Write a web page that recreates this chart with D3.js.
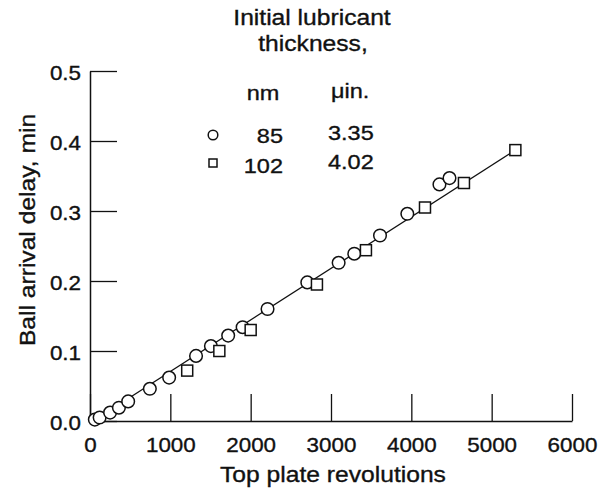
<!doctype html>
<html lang="en">
<head>
<meta charset="UTF-8" />
<title>Ball arrival delay vs top plate revolutions</title>
<style>
    body {
        margin: 0;
        background: #fff;
    }

    text {
        font-family: 'Liberation Sans', Arial, sans-serif;
        fill: #111;
        stroke: #111;
        stroke-width: 0.35px;
    }

    .mark {
        fill: #fff;
        stroke: #111;
        stroke-width: 1.5px;
    }
</style>
<script src="https://d3js.org/d3.v7.min.js"></script>
</head>
<body>
<div id="chart-container"></div>
<script>
    // 85 nm film (circles)
    var rev85 = [60, 120, 250, 360, 475, 745, 985, 1320, 1505, 1720, 1900, 2210, 2705, 3095, 3290, 3610, 3950, 4350, 4475];
    var delay85 = [0.002, 0.005, 0.012, 0.019, 0.028, 0.046, 0.062, 0.093, 0.107, 0.122, 0.134, 0.160, 0.198, 0.226, 0.239, 0.265, 0.296, 0.338, 0.347];

    // 102 nm film (squares)
    var rev102 = [1210, 1610, 2000, 2825, 3435, 4170, 4655, 5295];
    var delay102 = [0.072, 0.100, 0.130, 0.195, 0.244, 0.305, 0.340, 0.387];

    // straight fit line through both sets
    var fitRev = [40, 5295];
    var fitDelay = [0, 0.387];

    var xTicks = [0, 1000, 2000, 3000, 4000, 5000, 6000];
    var yTicks = [0, 0.1, 0.2, 0.3, 0.4, 0.5];

    var legendNm = ['85', '102'];
    var legendUin = ['3.35', '4.02'];

    var canvasWidth = 612;
    var canvasHeight = 491;
    var margin = { top: 71, left: 90 };
    var width = 482;
    var height = 350;
    var sx = 1.12; // scanned lettering is a bit wider than Arial

    var svg = d3
        .select('#chart-container')
        .append('svg')
        .attr('width', canvasWidth)
        .attr('height', canvasHeight);

    var g = svg
        .append('g')
        .attr('transform', 'translate(' + margin.left + ',' + margin.top + ')');

    var xScale = d3.scaleLinear().domain([0, 6000]).range([0, width]);
    var yScale = d3.scaleLinear().domain([0, 0.5]).range([height, 0]);

    // y axis, ticks pointing inward
    var yAxis = g.append('g')
        .call(d3.axisLeft(yScale)
            .tickValues(yTicks)
            .tickFormat(d3.format('.1f'))
            .tickSizeInner(-27)
            .tickSizeOuter(0)
            .tickPadding(9));

    // x axis
    var xAxis = g.append('g')
        .attr('transform', 'translate(0,' + height + ')')
        .call(d3.axisBottom(xScale)
            .tickValues(xTicks)
            .tickFormat(d3.format('d'))
            .tickSizeInner(-27)
            .tickSizeOuter(0)
            .tickPadding(17));

    [yAxis, xAxis].forEach(function (ax) {
        ax.attr('font-family', null).attr('font-size', null);
        ax.select('.domain').attr('stroke', '#111').attr('stroke-width', 1.5);
        ax.selectAll('.tick line').attr('stroke', '#111').attr('stroke-width', 1.3);
        ax.selectAll('text')
            .attr('fill', '#111')
            .attr('font-size', '20px')
            .attr('transform', 'scale(' + sx + ',1)');
    });
    yAxis.selectAll('text').attr('x', -9 / sx).attr('dy', '0.42em');

    // helper for free text, stretched like the original lettering
    function label(x, y, str, size, anchor, rot) {
        return svg.append('text')
            .attr('transform', 'translate(' + x + ',' + y + ')' + (rot ? ' rotate(' + rot + ')' : '') + ' scale(' + sx + ',1)')
            .attr('text-anchor', anchor)
            .attr('font-size', size + 'px')
            .text(str);
    }

    label(333, 482, 'Top plate revolutions', 22, 'middle');
    label(35, 230, 'Ball arrival delay, min', 22, 'middle', -90);

    // fit line
    var line = d3.line()
        .x(function (d) { return xScale(d[0]); })
        .y(function (d) { return yScale(d[1]); });

    g.append('path')
        .datum(d3.zip(fitRev, fitDelay))
        .attr('d', line)
        .attr('fill', 'none')
        .attr('stroke', '#111')
        .attr('stroke-width', 1.3);

    // circles, 85 nm
    g.selectAll('circle.c85')
        .data(d3.zip(rev85, delay85))
        .enter()
        .append('circle')
        .attr('class', 'mark c85')
        .attr('cx', function (d) { return xScale(d[0]); })
        .attr('cy', function (d) { return yScale(d[1]); })
        .attr('r', 6.3);

    // squares, 102 nm
    var sq = 11;
    g.selectAll('rect.s102')
        .data(d3.zip(rev102, delay102))
        .enter()
        .append('rect')
        .attr('class', 'mark s102')
        .attr('x', function (d) { return xScale(d[0]) - sq / 2; })
        .attr('y', function (d) { return yScale(d[1]) - sq / 2; })
        .attr('width', sq)
        .attr('height', sq);

    // legend
    label(312, 25, 'Initial lubricant', 22, 'middle');
    label(313, 51, 'thickness,', 22, 'middle');
    label(263, 100, 'nm', 21, 'middle');
    label(331, 98, 'μin.', 21, 'start');

    var legendRowsY = [135, 163];
    svg.append('circle')
        .attr('class', 'mark')
        .attr('cx', 213)
        .attr('cy', legendRowsY[0])
        .attr('r', 4.8);
    svg.append('rect')
        .attr('class', 'mark')
        .attr('x', 213 - 4)
        .attr('y', legendRowsY[1] - 4)
        .attr('width', 8)
        .attr('height', 8);

    legendNm.forEach(function (t, i) {
        label(283, legendRowsY[i] + 8 + i * 2, t, 21, 'end');
    });
    legendUin.forEach(function (t, i) {
        label(328, legendRowsY[i] + 4.5 + i * 1, t, 21, 'start');
    });
</script>
</body>
</html>
